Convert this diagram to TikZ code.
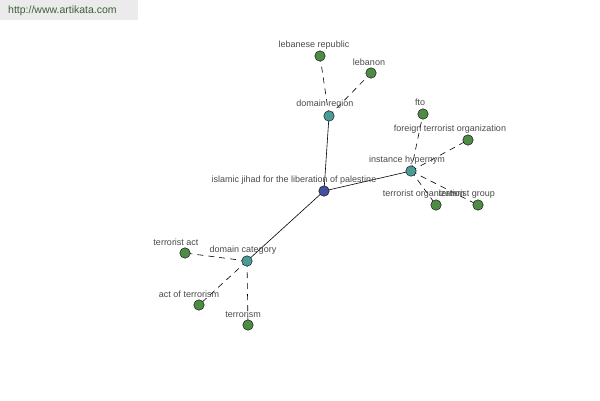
\documentclass[tikz,border=0pt]{standalone}
\usepackage{fontspec}
\setmainfont{Liberation Sans}
\usetikzlibrary{backgrounds}
\definecolor{leafc}{HTML}{4E8B45}
\definecolor{midc}{HTML}{4A9A98}
\definecolor{rootc}{HTML}{45509A}
\definecolor{labc}{HTML}{4A4A4A}
\definecolor{hdrbg}{HTML}{EBEBEB}
\definecolor{hdrtx}{HTML}{3E5E3A}
\begin{document}
\begin{tikzpicture}[x=1pt,y=-1pt,
  dot/.style={circle,draw=black,line width=0.4pt,minimum size=10.5pt,inner sep=0pt},
  leaf/.style={dot,fill=leafc},
  mid/.style={dot,fill=midc},
  root/.style={dot,fill=rootc},
  lab/.style={font=\fontsize{9}{10}\selectfont,text=labc,inner sep=0pt},
  solidedge/.style={draw=black,line width=0.6pt},
  dashedge/.style={draw=black,line width=0.6pt,dash pattern=on 6pt off 5pt}]
\useasboundingbox (0,0) rectangle (600,400);
% labels
\node[lab] (lc) at (294,180) {islamic jihad for the liberation of palestine};
\node[lab] (ldr) at (325,104) {domain region};
\node[lab] (llr) at (314,45) {lebanese republic};
\node[lab] (llb) at (369,62) {lebanon};
\node[lab] (lih) at (407,160) {instance hypernym};
\node[lab] (lfto) at (420,102) {fto};
\node[lab] (lfto2) at (450,129) {foreign terrorist organization};
\node[lab] (lto) at (424,194) {terrorist organization};
\node[lab] (ltg) at (467,194) {terrorist group};
\node[lab] (ldc) at (243,250) {domain category};
\node[lab] (lta) at (176,242) {terrorist act};
\node[lab] (laot) at (189,294) {act of terrorism};
\node[lab] (ltm) at (243,314) {terrorism};
% nodes
\node[root] (c) at (324,191) {};
\node[mid] (dr) at (329,116) {};
\node[leaf] (lr) at (320,56) {};
\node[leaf] (lb) at (371,73) {};
\node[mid] (ih) at (411,171) {};
\node[leaf] (fto) at (423,114) {};
\node[leaf] (fto2) at (468,140) {};
\node[leaf] (to) at (436,205) {};
\node[leaf] (tg) at (478,205) {};
\node[mid] (dc) at (247,261) {};
\node[leaf] (ta) at (185,253) {};
\node[leaf] (aot) at (199,305) {};
\node[leaf] (tm) at (248,325) {};
% edges and header background
\begin{pgfonlayer}{background}
\fill[hdrbg] (0,0) rectangle (138,20);
\draw[solidedge] (c.center) -- (dr.center);
\draw[solidedge] (c.center) -- (ih.center);
\draw[solidedge] (c.center) -- (dc.center);
\draw[dashedge] (dr.center) -- (lr.center);
\draw[dashedge] (dr.center) -- (lb.center);
\draw[dashedge] (ih.center) -- (fto.center);
\draw[dashedge] (ih.center) -- (fto2.center);
\draw[dashedge] (ih.center) -- (to.center);
\draw[dashedge] (ih.center) -- (tg.center);
\draw[dashedge] (dc.center) -- (ta.center);
\draw[dashedge] (dc.center) -- (aot.center);
\draw[dashedge] (dc.center) -- (tm.center);
\end{pgfonlayer}
\node[font=\fontsize{10.5}{12}\selectfont,text=hdrtx,anchor=west,inner sep=0pt] (hdr) at (8,11) {http://www.artikata.com};
\end{tikzpicture}
\end{document}
